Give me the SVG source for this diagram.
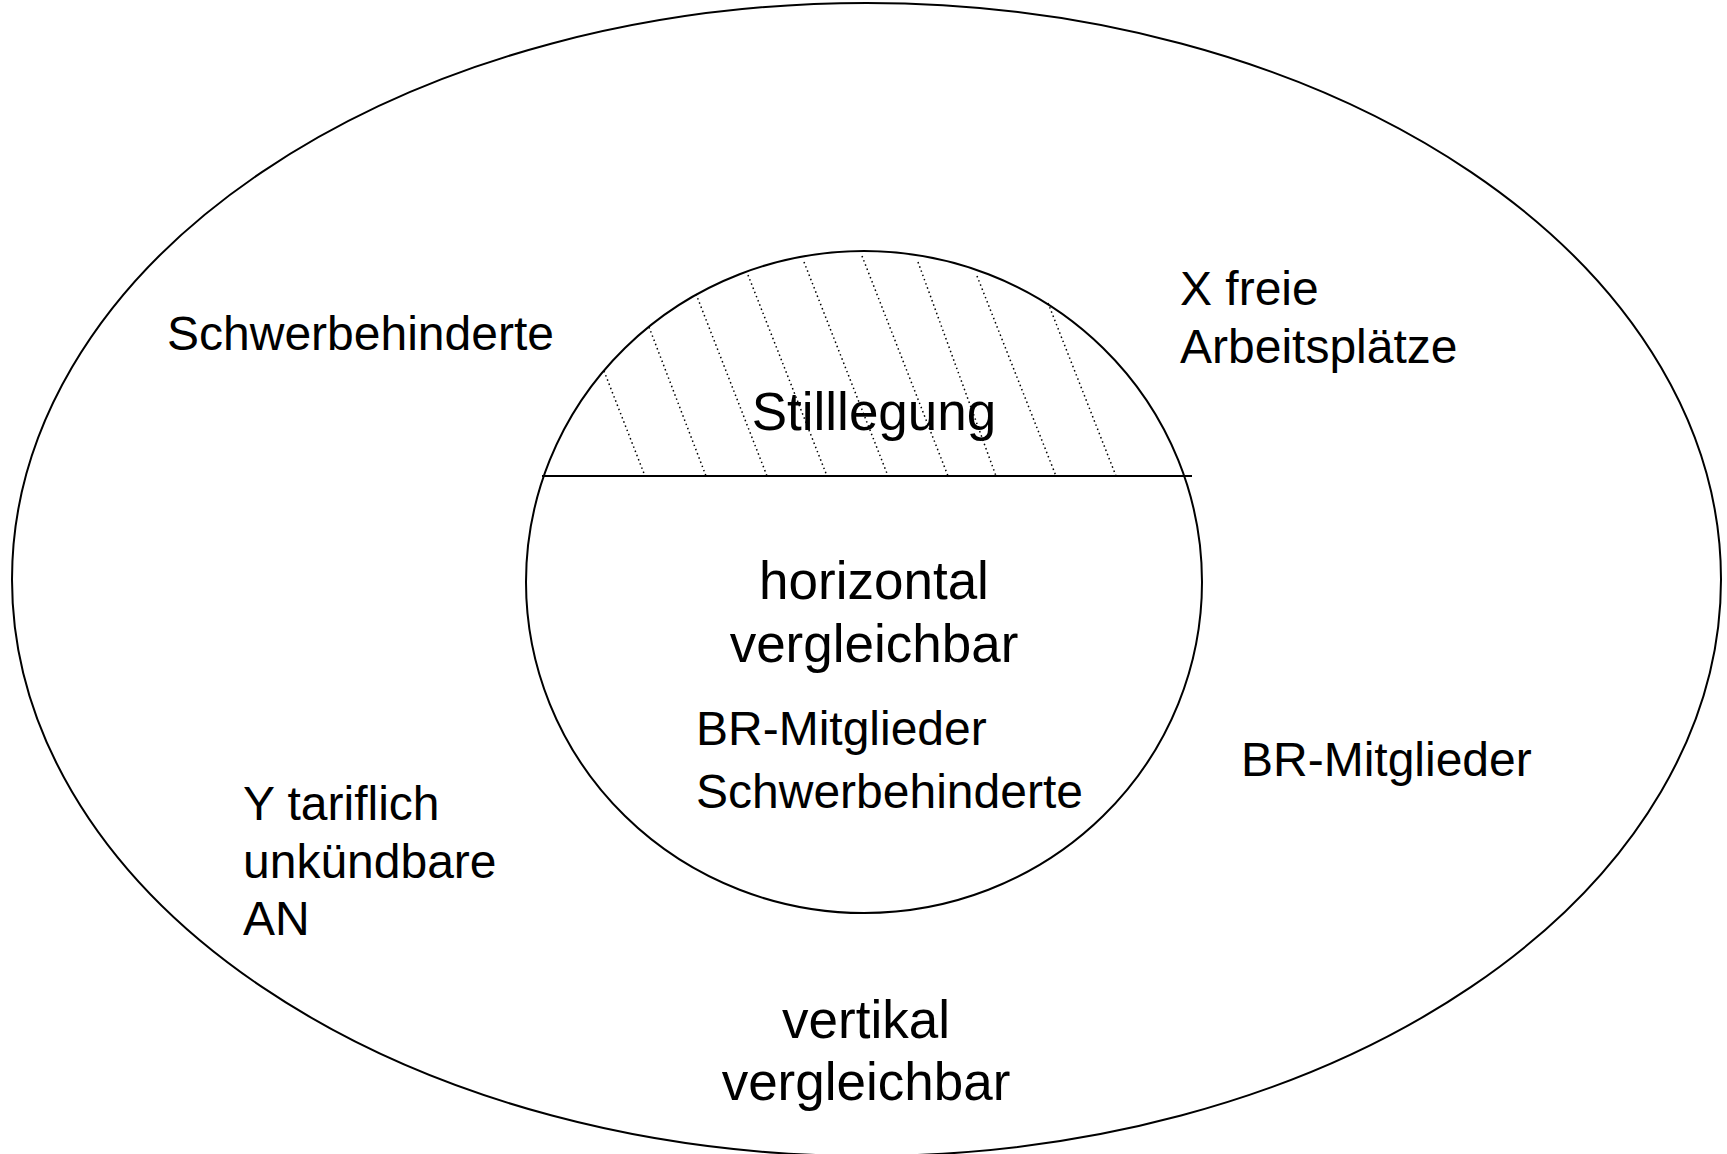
<svg xmlns="http://www.w3.org/2000/svg" width="1727" height="1154" viewBox="0 0 1727 1154">
<style>
.ln{fill:none;stroke:#000;stroke-width:2}
.hatch{fill:none;stroke:#000;stroke-width:1.5;stroke-dasharray:1.5 3}
.t{font-family:"Liberation Sans",Arial,sans-serif;fill:#000}
.s{font-size:48px}
.b{font-size:53px}
.m{text-anchor:middle}
</style>
<rect width="1727" height="1154" fill="#fff"/>
<g id="outer">
<ellipse class="ln" cx="866.5" cy="579.5" rx="854.5" ry="576.5"/>
<text class="t s" x="167" y="350">Schwerbehinderte</text>
<text class="t s" x="1180" y="305">X freie</text>
<text class="t s" x="1180" y="363">Arbeitsplätze</text>
<text class="t s" x="1241" y="776">BR-Mitglieder</text>
<text class="t s" x="243" y="820">Y tariflich</text>
<text class="t s" x="243" y="878">unkündbare</text>
<text class="t s" x="243" y="935">AN</text>
<text class="t b m" x="866" y="1038">vertikal</text>
<text class="t b m" x="866" y="1100">vergleichbar</text>
</g>
<g id="inner">
<ellipse class="ln" cx="864" cy="582" rx="338" ry="331"/>
<text class="t b m" x="874" y="599">horizontal</text>
<text class="t b m" x="874" y="662">vergleichbar</text>
<text class="t s" x="696" y="745">BR-Mitglieder</text>
<text class="t s" x="696" y="808">Schwerbehinderte</text>
</g>
<g id="stilllegung">
<g id="hatching">
<line class="hatch" x1="604" y1="371" x2="645" y2="476"/>
<line class="hatch" x1="649" y1="327" x2="706" y2="476"/>
<line class="hatch" x1="696" y1="294" x2="767" y2="476"/>
<line class="hatch" x1="748" y1="275" x2="827" y2="476"/>
<line class="hatch" x1="804" y1="262" x2="888" y2="476"/>
<line class="hatch" x1="862" y1="256" x2="948" y2="476"/>
<line class="hatch" x1="918" y1="262" x2="996" y2="476"/>
<line class="hatch" x1="977" y1="276" x2="1056" y2="476"/>
<line class="hatch" x1="1048" y1="303" x2="1116" y2="476"/>
</g>
<text class="t b m" x="874" y="430">Stilllegung</text>
</g>
<g id="connectors">
<line class="ln" x1="542" y1="476" x2="1192" y2="476"/>
</g>
</svg>
